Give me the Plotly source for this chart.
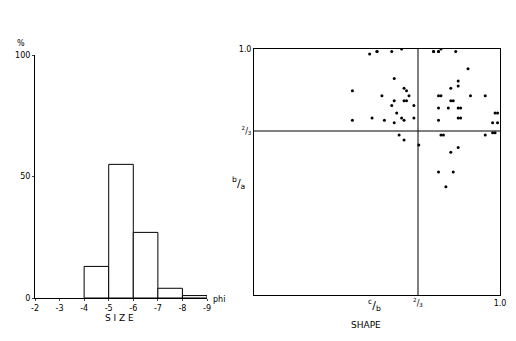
import plotly.graph_objects as go

# --- data ---
phi_bins = [-4.5, -5.5, -6.5, -7.5, -8.5]
percent = [13, 55, 27, 4, 1]
size_ticks = [-2, -3, -4, -5, -6, -7, -8, -9]
size_ticklabels = ["-2", "-3", "-4", "-5", "-6", "-7", "-8", "-9"]
pct_ticks = [0, 50, 100]

shape_cb = [0.47, 0.50, 0.50, 0.56, 0.60, 0.57, 0.40, 0.61, 0.62, 0.52, 0.63, 0.57, 0.61, 0.62,
            0.56, 0.65, 0.58, 0.48, 0.60, 0.65, 0.40, 0.53, 0.61, 0.57, 0.59, 0.61, 0.67,
            0.73, 0.75, 0.76, 0.73, 0.75, 0.82, 0.87, 0.83, 0.83, 0.80, 0.75, 0.76, 0.88, 0.94,
            0.80, 0.81, 0.75, 0.79, 0.83, 0.84, 0.83, 0.84, 0.75, 0.98, 0.99, 0.99, 0.97,
            0.94, 0.97, 0.98, 0.76, 0.77, 0.83, 0.80, 0.75, 0.81, 0.78]
shape_ba = [0.98, 0.99, 0.99, 0.99, 1.00, 0.88, 0.83, 0.84, 0.83, 0.81, 0.81, 0.79, 0.79, 0.79,
            0.77, 0.77, 0.74, 0.72, 0.72, 0.72, 0.71, 0.71, 0.71, 0.70, 0.65, 0.63, 0.61,
            0.99, 0.99, 1.00, 0.99, 0.99, 0.99, 0.92, 0.87, 0.85, 0.84, 0.81, 0.81, 0.81, 0.81,
            0.79, 0.79, 0.76, 0.76, 0.76, 0.76, 0.72, 0.72, 0.71, 0.74, 0.74, 0.70, 0.70,
            0.65, 0.66, 0.66, 0.65, 0.65, 0.60, 0.58, 0.50, 0.50, 0.44]
shape_ticks = [2 / 3, 1.0]
shape_ticklabels = ["<sup>2</sup>/<sub>3</sub>", "1.0"]

FONT = "DejaVu Sans"
W, H = 516, 341
OFF = 8  # default page body margin


def px(xp):
    return (xp - OFF) / W


def py(yp):
    return 1 - (yp - OFF) / H


fig = go.Figure()

fig.add_trace(go.Bar(x=phi_bins, y=percent, width=1,
                     marker=dict(color="white", line=dict(color="black", width=1)),
                     xaxis="x", yaxis="y", showlegend=False))
fig.add_trace(go.Scatter(x=shape_cb, y=shape_ba, mode="markers",
                         marker=dict(color="black", size=3),
                         xaxis="x2", yaxis="y2", showlegend=False))

ax_common = dict(showgrid=False, zeroline=False, linecolor="black", linewidth=1,
                 automargin=False,
                 tickfont=dict(family=FONT, size=8, color="black"))

fig.update_layout(
    width=W, height=H, margin=dict(l=0, r=0, t=0, b=0, autoexpand=False),
    paper_bgcolor="white", plot_bgcolor="white",
    font=dict(family=FONT, color="black"),
    xaxis=dict(domain=[px(35), px(207)], range=[-2, -9], tickvals=size_ticks,
               ticktext=size_ticklabels, showline=True, ticks="outside", ticklen=2,
               anchor="y", **ax_common),
    yaxis=dict(domain=[py(298), py(55)], range=[0, 100], tickvals=pct_ticks,
               showline=True, ticks="outside", ticklen=2, anchor="x", **ax_common),
    xaxis2=dict(domain=[px(254), px(500)], range=[0, 1], tickvals=shape_ticks,
                ticktext=shape_ticklabels, showline=True, mirror=True, ticks="",
                anchor="y2", **ax_common),
    yaxis2=dict(domain=[py(295), py(49)], range=[0, 1], tickvals=shape_ticks,
                ticktext=shape_ticklabels, showline=True, mirror=True, ticks="",
                anchor="x2", **ax_common),
    shapes=[
        dict(type="line", xref="x2", yref="y2", x0=2 / 3, x1=2 / 3, y0=0, y1=1,
             line=dict(color="black", width=1)),
        dict(type="line", xref="x2", yref="y2", x0=0, x1=1, y0=2 / 3, y1=2 / 3,
             line=dict(color="black", width=1)),
    ],
    annotations=[
        dict(text="%", x=px(15), y=py(37), xref="paper", yref="paper", showarrow=False,
             font=dict(size=8)),
        dict(text="phi", x=px(211), y=py(299), xref="paper", yref="paper", showarrow=False,
             xanchor="left", yanchor="middle", font=dict(size=8)),
        dict(text="S I Z E", x=px(103), y=py(318), xref="paper", yref="paper",
             showarrow=False, yanchor="middle", font=dict(size=9)),
        dict(text="<sup>b</sup>/<sub>a</sub>", x=px(239), y=py(183), xref="paper",
             yref="paper", showarrow=False, font=dict(size=11)),
        dict(text="<sup>c</sup>/<sub>b</sub>", x=px(383), y=py(305), xref="paper",
             yref="paper", showarrow=False, yanchor="middle", font=dict(size=11)),
        dict(text="SHAPE", x=px(383), y=py(325), xref="paper", yref="paper",
             showarrow=False, yanchor="middle", font=dict(size=9)),
    ],
)

fig.write_html("out.html")
